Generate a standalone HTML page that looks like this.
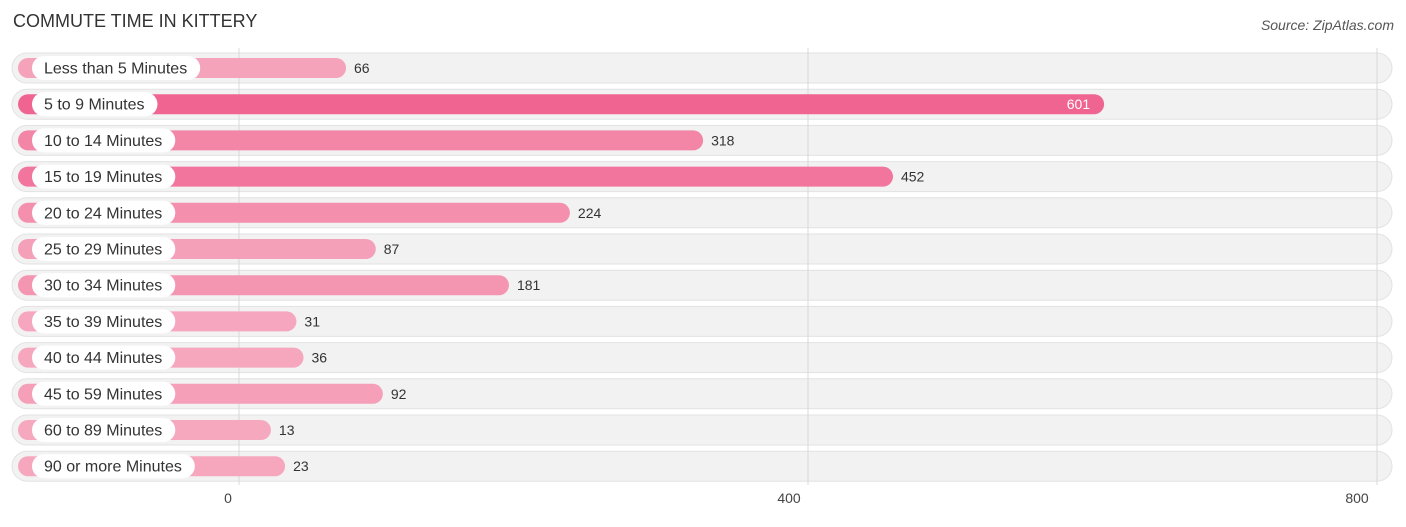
<!DOCTYPE html>
<html><head><meta charset="utf-8"><style>
body{margin:0;background:#fff;width:1406px;height:522px;overflow:hidden;font-family:"Liberation Sans",sans-serif}
</style></head><body>
<svg id="chart" width="1406" height="522" xmlns="http://www.w3.org/2000/svg">
<text x="13" y="27" font-size="18" fill="#333">COMMUTE TIME IN KITTERY</text>
<text x="1394" y="30" font-size="14" fill="#555" font-style="italic" text-anchor="end">Source: ZipAtlas.com</text>
<g id="rowbg"></g><g id="grid"></g><g id="rows"></g><g id="ticks"></g>
</svg>
<script>
const categories=["Less than 5 Minutes","5 to 9 Minutes","10 to 14 Minutes","15 to 19 Minutes","20 to 24 Minutes","25 to 29 Minutes","30 to 34 Minutes","35 to 39 Minutes","40 to 44 Minutes","45 to 59 Minutes","60 to 89 Minutes","90 or more Minutes"];
const values=[66,601,318,452,224,87,181,31,36,92,13,23];
const tickValues=[0,400,800];
const tickLabels=["0","400","800"];
const NS="http://www.w3.org/2000/svg";
function x(v){return 239+v*1.4225;}
function barEnd(v){return 252.5+v*1.417;}
function rowY(i){return 68+i*36.2;}
function mk(t,a,p){const e=document.createElementNS(NS,t);for(const k in a)e.setAttribute(k,a[k]);p.appendChild(e);return e;}
const rowbg=document.getElementById('rowbg'),grid=document.getElementById('grid'),rows=document.getElementById('rows'),ticks=document.getElementById('ticks');
const maxV=Math.max(...values);
function col(v){const t=v/maxV;const a=[246,170,192],b=[240,100,145];return `rgb(${a.map((c,i)=>Math.round(c+(b[i]-c)*t)).join(',')})`;}
categories.forEach((c,i)=>{
 const y=rowY(i);
 const bg=mk('rect',{x:12,y:y-15,width:1380,height:30,rx:15,fill:'#f2f2f2',stroke:'#e2e2e2'},rowbg);
 
 
});
tickValues.forEach((t,i)=>{
 const l=mk('line',{x1:x(t),x2:x(t),y1:48,y2:485,stroke:'#d8d8d8'},grid);
 
 
 const tx=mk('text',{x:x(t)-(i==0?11:i==2?20:19),y:503,'font-size':14,fill:'#444','text-anchor':'middle'},ticks);
 
 
 tx.textContent=tickLabels[i];
});
categories.forEach((c,i)=>{
 const y=rowY(i),v=values[i],e=barEnd(v);
 const b=mk('rect',{x:18,y:y-10,width:e-18,height:20,rx:10,fill:col(v)},rows);
 
 
 const p=mk('rect',{x:32,y:y-12,width:150,height:24,rx:12,fill:'#fff'},rows);
 
 
 const lt=mk('text',{x:44,y:y+5.5,'font-size':16,fill:'#333'},rows);
 
 
 lt.textContent=c;
 let w=c.length*8.2;
 try{w=lt.getComputedTextLength();}catch(err){}
 p.setAttribute('width',w+25);
 const inside=v>500;
 const vt=mk('text',{x:inside?e-14:e+8,y:y+5,'font-size':14,fill:inside?'#fff':'#333','text-anchor':inside?'end':'start'},rows);
 
 
 vt.textContent=v;
});
</script>
</body></html>
